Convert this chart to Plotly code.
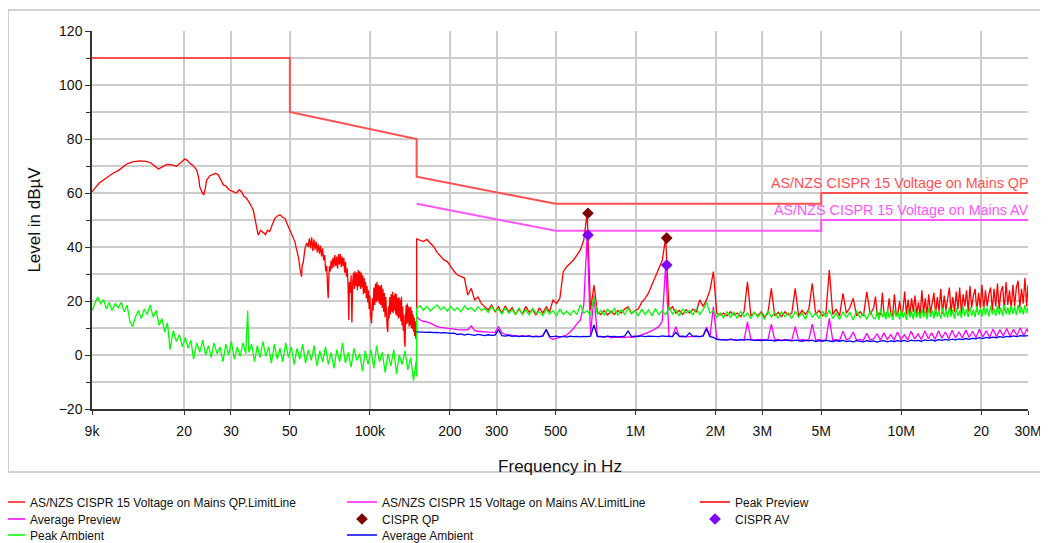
import math
import plotly.graph_objects as go

# ---------------- limit lines (kHz, dBuV) ----------------
qp_limit_khz = [9, 50, 50, 150, 150, 500, 5000, 5000, 30000]
qp_limit_db = [110, 110, 90, 80, 66, 56, 56, 60, 60]
av_limit_khz = [150, 500, 5000, 5000, 30000]
av_limit_db = [56, 46, 46, 50, 50]

# ---------------- Peak Preview, 9 kHz - 150 kHz ----------------
peak_low_khz = [
    9.0, 9.3, 9.6, 10.0, 10.4, 10.8, 11.3, 11.8, 12.2, 12.8,
    13.6, 14.3, 14.9, 15.5, 16.0, 16.5, 17.2, 18.0, 18.7, 19.4,
    20.1, 20.6, 21.0, 21.6, 22.3, 22.7, 22.9, 23.3, 23.7, 24.0,
    24.3, 25.0, 25.7, 26.3, 26.9, 27.5, 28.1, 28.8, 29.5, 30.6,
    31.5, 32.2, 32.9, 33.6, 34.4, 35.4, 36.4, 37.2, 38.0, 38.8,
    39.7, 40.5, 41.2, 42.0, 43.0, 43.9, 44.9, 45.9, 46.9, 47.9,
    49.0, 50.0, 51.0, 52.2, 53.0, 53.8, 54.6, 55.3, 55.7, 56.1,
    57.0, 57.8, 58.6, 59.2, 59.8, 60.4, 61.0, 61.6, 62.2, 62.8,
    63.4, 64.0, 64.6, 65.2, 65.8, 66.4, 67.0, 67.6, 68.2, 68.8,
    69.4, 69.7, 70.1, 70.5, 71.0, 71.5, 72.0, 72.6, 73.2, 73.8,
    74.4, 75.0, 75.6, 76.2, 76.8, 77.4, 78.0, 78.6, 79.2, 79.8,
    80.4, 81.0, 81.6, 82.2, 82.8, 83.3, 83.8, 84.4, 85.0, 85.6,
    86.2, 86.8, 87.4, 88.0, 88.6, 89.2, 89.8, 90.4, 91.0, 91.6,
    92.2, 92.8, 93.4, 94.0, 94.6, 95.2, 95.8, 96.4, 97.0, 97.6,
    98.2, 98.8, 99.4, 100.0, 100.8, 101.5, 102.2, 102.9, 103.6, 104.3,
    105.0, 105.7, 106.4, 107.1, 107.8, 108.5, 109.2, 109.9, 110.6, 111.3,
    112.0, 112.7, 113.4, 114.1, 114.8, 115.5, 116.2, 116.8, 117.5, 118.2,
    118.9, 119.6, 120.3, 121.0, 121.7, 122.4, 123.1, 123.8, 124.5, 125.2,
    125.9, 126.6, 127.3, 128.0, 128.7, 129.4, 130.1, 130.8, 131.5, 132.2,
    132.9, 133.6, 134.3, 135.0, 135.6, 136.3, 137.0, 137.7, 138.4, 139.1,
    139.8, 140.5, 141.2, 141.9, 142.6, 143.3, 144.0, 144.7, 145.4, 146.1,
    146.8, 147.5, 148.2, 148.9, 149.5, 150.0,
]
peak_low_db = [
    60.5, 62.3, 63.8, 65.0, 66.2, 67.3, 68.3, 69.6, 70.8, 71.5,
    71.9, 71.7, 71.3, 70.0, 68.9, 69.6, 70.6, 70.4, 69.9, 71.2,
    72.6, 72.0, 71.0, 70.2, 68.5, 65.5, 62.3, 60.5, 59.3, 61.5,
    64.8, 66.4, 66.9, 67.3, 66.7, 64.8, 63.0, 62.5, 61.2, 60.5,
    60.0, 61.2, 60.5, 58.8, 58.0, 56.0, 53.7, 49.0, 44.4, 46.2,
    45.4, 44.6, 46.2, 45.7, 48.5, 50.6, 51.5, 51.9, 51.0, 50.6,
    48.2, 46.3, 44.0, 42.0, 39.0, 36.4, 32.0, 29.0, 33.5, 34.0,
    39.5, 41.5, 40.0, 43.2, 39.5, 43.6, 38.5, 42.8, 39.0, 42.0,
    38.0, 41.0, 37.5, 40.5, 36.5, 39.5, 35.0, 37.0, 31.0, 33.0,
    24.0, 21.0, 29.0, 33.0, 31.0, 35.0, 32.0, 36.0, 32.5, 37.0,
    33.0, 36.5, 32.0, 37.4, 33.5, 37.5, 32.5, 36.5, 33.0, 36.0,
    30.5, 34.5, 29.0, 32.0, 26.0, 13.0, 27.0, 23.0, 29.5, 12.0,
    27.0, 30.5, 24.5, 31.0, 25.5, 30.5, 24.0, 31.5, 25.5, 31.0,
    24.5, 30.5, 25.0, 29.5, 22.5, 28.5, 23.0, 27.0, 21.0, 25.5,
    19.5, 24.0, 17.0, 22.0, 14.0, 11.7, 21.0, 16.5, 25.0, 18.5,
    26.5, 19.5, 27.1, 20.0, 26.0, 19.0, 25.5, 18.5, 26.0, 17.5,
    24.5, 16.0, 23.0, 14.0, 21.5, 12.0, 10.0, 8.6, 18.0, 13.5,
    21.5, 15.0, 22.5, 16.0, 23.4, 15.5, 22.0, 16.5, 23.0, 15.0,
    22.5, 14.5, 21.0, 13.5, 21.5, 14.0, 20.5, 12.5, 21.6, 11.0,
    18.0, 9.0, 15.0, 5.0, 3.1, 14.0, 18.5, 11.5, 19.1, 12.0,
    18.0, 10.5, 17.5, 11.0, 17.9, 10.0, 16.5, 9.5, 15.0, 8.5,
    14.0, 7.0, 12.5, 6.0, 10.5, 8.0,
]

# ---------------- Peak Ambient, 9 kHz - 150 kHz ----------------
amb_low_khz = [
    9.0, 9.2, 9.45, 9.7, 9.95, 10.2, 10.45, 10.7, 11.0, 11.3,
    11.6, 11.9, 12.2, 12.5, 12.8, 13.1, 13.45, 13.8, 14.15, 14.5,
    14.9, 15.3, 15.7, 16.1, 16.5, 16.9, 17.3, 17.7, 18.2, 18.7,
    19.2, 19.7, 20.2, 20.7, 21.2, 21.7, 22.3, 22.9, 23.5, 24.1,
    24.7, 25.3, 25.9, 26.6, 27.3, 28.0, 28.7, 29.4, 30.1, 30.9,
    31.7, 32.5, 33.3, 34.1, 34.7, 35.0, 35.9, 36.8, 37.7, 38.6,
    39.6, 40.6, 41.6, 42.6, 43.7, 44.8, 45.9, 47.0, 48.2, 49.4,
    50.6, 51.9, 53.2, 54.5, 55.9, 57.3, 58.7, 60.2, 61.7, 63.2,
    64.8, 66.4, 68.1, 69.8, 71.5, 73.3, 75.1, 77.0, 78.9, 80.9,
    82.9, 85.0, 87.1, 89.3, 91.5, 93.8, 96.1, 98.5, 101.0, 103.5,
    106.0, 108.7, 111.4, 114.2, 117.0, 120.0, 123.0, 126.0, 129.0, 132.3,
    135.6, 139.0, 142.5, 146.0, 149.5, 150.0,
]
amb_low_db = [
    16.5, 18.5, 21.5, 19.0, 20.5, 17.0, 19.5, 16.5, 19.0, 17.5,
    19.5, 16.0, 18.5, 12.5, 10.5, 14.0, 16.5, 13.5, 17.0, 15.0,
    18.5, 14.0, 16.5, 11.0, 13.5, 8.5, 12.0, 2.0, 9.0, 5.0,
    7.5, 3.0, 6.5, 2.5, 5.5, -1.5, 4.5, 1.0, 5.5, 0.0,
    3.5, -1.0, 4.5, 0.5, 3.0, -2.5, 4.0, 0.0, 5.0, -1.5,
    3.0, -0.5, 4.5, 0.5, 16.5, 1.0, 4.0, -2.5, 3.5, -1.0,
    5.0, -0.5, 3.0, -3.0, 4.0, -1.5, 2.5, -2.5, 4.5, -1.0,
    3.0, -3.5, 2.5, -1.5, 4.0, -3.0, 2.0, -2.0, 3.5, -4.0,
    1.5, -2.5, 3.0, -3.5, 1.0, -5.0, 2.0, -2.5, 4.5, -3.0,
    1.0, -4.5, 2.5, -2.0, 0.5, -6.0, 1.5, -3.5, 2.0, -5.0,
    3.5, -2.5, 1.0, -6.5, 0.5, -4.0, 2.0, -7.0, 0.0, -3.5,
    1.5, -5.5, -1.0, -9.5, -2.0, -8.0,
]

# ---------------- sweep 150 kHz - 30 MHz ----------------
sweep_khz = [
    150, 154.5, 159.1, 163.9, 168.8, 173.9, 179.1, 184.5, 190.0, 195.7,
    201.6, 207.6, 213.8, 220.3, 226.9, 233.7, 240.7, 247.9, 255.3, 263.0,
    270.9, 279.0, 287.4, 296.0, 304.9, 314.0, 323.5, 333.2, 343.1, 353.4,
    364.0, 375.0, 386.2, 397.8, 409.7, 422.0, 434.7, 447.7, 461.2, 475.0,
    489.2, 503.9, 519.0, 534.6, 550.6, 567.2, 584.2, 601.7, 619.8, 638.4,
    657.5, 677.2, 697.5, 718.5, 740.0, 762.2, 785.1, 808.7, 832.9, 857.9,
    883.6, 910.1, 937.4, 965.6, 994.5, 1024, 1055, 1087, 1119, 1153,
    1188, 1223, 1260, 1298, 1337, 1377, 1418, 1461, 1504, 1549,
    1596, 1644, 1693, 1744, 1796, 1850, 1906, 1963, 2022, 2082,
    2145, 2209, 2275, 2344, 2414, 2486, 2561, 2638, 2717, 2798,
    2882, 2969, 3058, 3150, 3244, 3341, 3442, 3545, 3651, 3761,
    3874, 3990, 4109, 4233, 4360, 4490, 4625, 4764, 4907, 5054,
    5206, 5362, 5523, 5688, 5859, 6035, 6216, 6402, 6594, 6792,
    6996, 7206, 7422, 7645, 7874, 8110, 8354, 8604, 8862, 9128,
    9402, 9684, 9975, 10274, 10582, 10900, 11227, 11564, 11911, 12268,
    12636, 13015, 13405, 13808, 14222, 14649, 15088, 15541, 16007, 16487,
    16982, 17491, 18016, 18557, 19113, 19687, 20277, 20886, 21512, 22158,
    22822, 23507, 24212, 24939, 25687, 26457, 27251, 28069, 28911, 29778,
    30000,
]
# peak traces on the sweep up to 7.9 MHz
peak_preview_db = [
    43.0, 42.5, 42.0, 42.8, 41.5, 40.1, 38.0, 36.5, 35.2, 34.6,
    32.7, 31.0, 29.6, 29.0, 28.5, 22.2, 24.7, 20.4, 21.5, 19.0,
    17.9, 16.7, 18.5, 16.0, 17.9, 15.5, 18.2, 16.0, 17.5, 15.0,
    17.0, 15.2, 18.0, 15.8, 16.8, 14.8, 17.5, 15.5, 17.9, 16.0,
    20.4, 19.1, 21.0, 30.9, 32.7, 34.0, 35.2, 37.0, 38.9, 42.6,
    52.5, 16.7, 25.9, 16.0, 15.0, 16.5, 14.8, 16.2, 15.0, 16.5,
    15.5, 17.0, 17.9, 15.5, 16.5, 17.0, 19.5, 21.0, 23.0, 26.0,
    29.0, 31.8, 35.0, 43.3, 16.7, 17.9, 15.5, 16.5, 15.0, 16.8,
    15.5, 17.0, 16.0, 20.4, 18.0, 20.4, 24.0, 30.9, 15.4, 14.8,
    15.5, 14.5, 16.0, 14.8, 15.5, 14.2, 16.0, 27.1, 14.5, 15.8,
    14.5, 16.0, 14.0, 15.5, 24.7, 14.5, 15.8, 14.2, 16.0, 14.8,
    15.5, 24.7, 14.5, 16.5, 15.0, 17.0, 26.5, 15.0, 16.5, 14.5,
    15.5, 31.5, 15.0, 17.0, 14.5, 22.8, 15.5, 17.5, 21.0, 14.5,
    16.0, 14.5, 23.4, 15.0, 17.5,
]
peak_ambient_db = [
    17.3, 18.3, 16.5, 18.0, 16.3, 17.5, 18.5, 16.8, 17.8, 16.2,
    18.0, 16.5, 17.5, 16.0, 18.2, 16.8, 17.6, 16.2, 17.9, 16.5,
    17.2, 15.8, 17.9, 16.3, 17.0, 15.2, 17.6, 15.5, 16.8, 15.0,
    17.5, 15.0, 16.8, 14.8, 17.2, 15.5, 16.0, 14.5, 17.0, 15.2,
    16.5, 14.5, 17.0, 15.0, 16.2, 14.8, 16.5, 15.0, 18.5, 15.5,
    16.5, 14.5, 21.6, 15.0, 16.5, 14.8, 17.0, 15.5, 17.2, 14.8,
    16.8, 15.0, 17.5, 15.2, 16.5, 14.5, 17.0, 15.0, 16.8, 14.5,
    17.2, 15.0, 16.5, 14.8, 17.8, 15.2, 16.8, 14.5, 17.0, 15.5,
    16.5, 14.8, 17.2, 15.0, 16.8, 19.5, 15.5, 16.5, 14.0, 15.5,
    13.8, 16.0, 14.0, 15.8, 13.5, 16.2, 14.2, 15.5, 13.5, 16.0,
    14.0, 15.5, 13.2, 16.5, 14.0, 15.8, 13.5, 16.0, 14.2, 15.5,
    13.5, 16.2, 14.0, 15.6, 13.2, 16.5, 14.0, 15.5, 13.5, 16.2,
    14.0, 16.8, 13.5, 15.5, 13.2, 16.0, 14.0, 15.8, 13.0, 16.5,
    13.8, 15.5, 13.2, 16.2, 13.5,
]
# average traces on the full sweep
avg_preview_db = [
    14.2, 13.0, 12.5, 12.3, 11.8, 11.0, 10.5, 10.2, 10.0, 9.9,
    9.8, 9.5, 9.4, 9.3, 9.3, 9.3, 10.8, 9.0, 8.8, 8.6,
    8.6, 8.5, 8.4, 8.4, 10.5, 8.2, 7.6, 7.4, 7.3, 7.2,
    7.0, 7.2, 6.9, 7.1, 6.8, 7.0, 6.8, 7.2, 9.3, 6.5,
    5.8, 6.2, 6.6, 7.0, 7.4, 8.5, 9.8, 11.5, 13.0, 18.5,
    44.4, 7.5, 22.0, 7.0, 6.8, 6.5, 6.9, 6.4, 6.6, 6.5,
    6.6, 6.4, 6.7, 6.5, 6.6, 7.0, 7.5, 8.0, 8.4, 9.0,
    9.8, 10.5, 12.5, 33.3, 6.8, 6.8, 10.5, 6.9, 6.7, 6.8,
    6.8, 7.0, 6.9, 6.8, 7.0, 10.3, 6.8, 17.9, 6.0, 5.8,
    5.8, 5.6, 5.9, 5.7, 5.5, 5.8, 5.6, 12.3, 5.7, 5.5,
    5.6, 5.8, 5.5, 5.7, 11.4, 5.5, 5.8, 5.4, 5.7, 5.6,
    5.5, 10.6, 5.4, 5.8, 5.5, 5.7, 11.4, 5.5, 5.8, 5.4,
    5.6, 13.6, 5.5, 5.8, 5.4, 8.8, 5.7, 6.2, 8.5, 5.5,
    5.8, 5.5, 8.0, 5.6, 6.0, 7.8, 5.5, 8.2, 5.7, 7.5,
    5.6, 8.5, 5.8, 7.5, 5.6, 8.8, 5.9, 7.8, 5.7, 9.0,
    6.0, 8.2, 5.8, 9.0, 6.2, 8.5, 6.0, 9.2, 6.3, 8.6,
    6.2, 9.3, 6.5, 8.8, 6.4, 9.5, 6.7, 9.0, 6.6, 9.6,
    6.8, 9.4, 7.0, 9.8, 6.9, 9.5, 7.2, 10.0, 7.1, 9.8,
    8.5,
]
avg_ambient_db = [
    8.6, 8.5, 8.6, 8.4, 8.5, 8.3, 8.4, 8.2, 8.3, 8.1,
    8.0, 8.1, 7.6, 7.8, 7.4, 7.7, 7.5, 7.3, 7.6, 7.4,
    7.2, 7.5, 7.3, 7.4, 9.3, 7.2, 7.0, 7.3, 6.9, 7.1,
    6.8, 7.0, 6.9, 7.1, 6.7, 6.9, 6.8, 7.0, 9.5, 6.9,
    6.8, 7.0, 6.7, 6.9, 6.6, 7.0, 6.8, 6.9, 6.7, 6.9,
    6.8, 7.0, 11.1, 6.8, 6.9, 6.7, 7.0, 6.8, 6.9, 6.7,
    6.9, 7.0, 8.9, 6.8, 7.0, 6.9, 7.1, 6.8, 7.0, 6.9,
    7.0, 6.8, 7.1, 6.9, 7.0, 6.8, 8.4, 6.9, 7.0, 6.8,
    8.2, 6.9, 7.0, 6.8, 7.1, 9.7, 6.8, 6.5, 5.8, 5.6,
    5.7, 5.5, 5.8, 5.6, 5.4, 5.7, 5.5, 5.8, 5.6, 5.4,
    5.5, 5.3, 5.6, 5.4, 5.5, 5.2, 5.5, 5.3, 5.6, 5.4,
    5.2, 5.5, 5.3, 5.1, 5.4, 5.2, 5.5, 5.0, 5.3, 5.1,
    5.4, 5.2, 5.0, 5.3, 5.1, 5.4, 5.0, 5.2, 4.9, 5.3,
    5.1, 4.9, 5.3, 5.0, 5.2, 4.8, 5.1, 5.3, 4.9, 5.2,
    5.0, 5.3, 5.1, 5.4, 5.0, 5.5, 5.2, 5.4, 5.1, 5.6,
    5.3, 5.6, 5.2, 5.7, 5.4, 5.8, 5.5, 5.9, 5.6, 6.0,
    5.7, 6.1, 5.8, 6.2, 6.0, 6.4, 6.1, 6.5, 6.3, 6.6,
    6.4, 6.8, 6.5, 6.9, 6.7, 7.1, 6.8, 7.2, 7.0, 7.3,
    7.2,
]

# ---------------- fine sweep 8 MHz - 30 MHz for the peak traces ----------------
fine_khz = [
    8000, 8120, 8242, 8365, 8491, 8618, 8747, 8879, 9012, 9147,
    9284, 9423, 9565, 9708, 9854, 10002, 10152, 10304, 10459, 10616,
    10775, 10936, 11100, 11267, 11436, 11608, 11782, 11959, 12138, 12320,
    12505, 12692, 12883, 13076, 13272, 13471, 13673, 13878, 14086, 14298,
    14512, 14730, 14951, 15175, 15403, 15634, 15868, 16106, 16348, 16593,
    16842, 17095, 17351, 17611, 17876, 18144, 18416, 18692, 18972, 19257,
    19546, 19839, 20137, 20439, 20745, 21056, 21372, 21693, 22018, 22348,
    22684, 23024, 23369, 23720, 24075, 24437, 24803, 25175, 25553, 25936,
    26325, 26720, 27121, 27528, 27941, 28360, 28785, 29217, 29655, 30000,
]
peak_preview_fine_db = [
    21.6, 14.5, 15.5, 14.8, 23.0, 15.0, 14.5, 16.0, 21.0, 15.0,
    14.5, 22.5, 15.5, 14.8, 20.0, 15.2, 16.5, 23.5, 15.0, 20.5,
    14.5, 21.0, 16.0, 22.0, 15.0, 19.5, 14.5, 24.0, 15.5, 21.0,
    14.8, 22.5, 15.5, 20.0, 23.0, 15.0, 21.5, 16.0, 24.5, 15.2,
    22.0, 16.5, 20.5, 25.0, 15.5, 21.5, 16.0, 23.5, 17.0, 25.0,
    15.5, 22.5, 18.0, 24.0, 16.0, 25.5, 17.5, 22.0, 24.5, 16.0,
    23.0, 17.5, 26.0, 16.5, 24.0, 18.0, 22.5, 25.0, 16.5, 24.5,
    18.0, 26.5, 17.0, 23.5, 25.5, 16.5, 27.0, 18.5, 24.0, 17.0,
    26.0, 18.0, 25.0, 27.5, 17.5, 24.5, 19.0, 28.5, 18.0, 26.0,
]
peak_ambient_fine_db = [
    13.5, 16.5, 13.0, 17.0, 14.0, 16.0, 13.2, 16.8, 13.8, 15.8,
    13.0, 16.5, 14.2, 16.0, 13.2, 17.0, 13.8, 15.8, 13.0, 16.8,
    14.0, 16.2, 13.2, 17.2, 13.8, 16.0, 13.5, 17.0, 14.0, 16.2,
    13.2, 17.5, 14.0, 16.5, 13.5, 17.2, 14.2, 16.0, 13.5, 17.5,
    14.0, 16.5, 13.8, 17.8, 14.2, 16.8, 13.5, 17.5, 14.5, 16.5,
    13.8, 18.0, 14.5, 17.0, 14.0, 17.8, 14.6, 16.8, 14.0, 18.2,
    14.8, 17.2, 14.2, 18.0, 14.8, 17.5, 14.2, 18.3, 15.0, 17.2,
    14.5, 18.2, 15.0, 17.5, 14.5, 18.5, 15.2, 17.6, 14.8, 18.4,
    15.2, 17.8, 14.8, 18.6, 15.4, 17.8, 15.0, 18.5, 15.5, 17.5,
]

# ---------------- final measurements ----------------
qp_khz = [662, 1310]
qp_db = [52.5, 43.3]
av_khz = [662, 1310]
av_db = [44.4, 33.3]

# ---------------- axis ticks ----------------
x_tick_hz = [9e3, 2e4, 3e4, 5e4, 1e5, 2e5, 3e5, 5e5, 1e6, 2e6, 3e6, 5e6, 1e7, 2e7, 3e7]
x_tick_text = ["9k", "20", "30", "50", "100k", "200", "300", "500", "1M", "2M", "3M", "5M", "10M", "20", "30M"]

assert len(peak_low_khz) == len(peak_low_db), (len(peak_low_khz), len(peak_low_db))
assert len(amb_low_khz) == len(amb_low_db), (len(amb_low_khz), len(amb_low_db))
assert len(peak_preview_db) == len(peak_ambient_db), (len(peak_preview_db), len(peak_ambient_db))
for arr in (avg_preview_db, avg_ambient_db):
    assert len(arr) == len(sweep_khz), (len(arr), len(sweep_khz))
for arr in (peak_preview_fine_db, peak_ambient_fine_db):
    assert len(arr) == len(fine_khz), (len(arr), len(fine_khz))


def hz(lst):
    return [v * 1000.0 for v in lst]


peak_sweep_khz = sweep_khz[:len(peak_preview_db)]

QP_COLOR = "#ff5050"
AV_COLOR = "#ff55ff"

fig = go.Figure()
fig.add_trace(go.Scatter(x=hz(qp_limit_khz), y=qp_limit_db, mode="lines",
                         line=dict(color=QP_COLOR, width=2), legend="legend",
                         name="AS/NZS CISPR 15 Voltage on Mains QP.LimitLine"))
fig.add_trace(go.Scatter(x=hz(av_limit_khz), y=av_limit_db, mode="lines",
                         line=dict(color=AV_COLOR, width=2), legend="legend2",
                         name="AS/NZS CISPR 15 Voltage on Mains AV.LimitLine"))
fig.add_trace(go.Scatter(x=hz(peak_low_khz + peak_sweep_khz + fine_khz),
                         y=peak_low_db + peak_preview_db + peak_preview_fine_db, mode="lines",
                         line=dict(color="#ff0000", width=1.3), legend="legend3",
                         name="Peak Preview"))
fig.add_trace(go.Scatter(x=hz(sweep_khz), y=avg_preview_db, mode="lines",
                         line=dict(color="#ff00ff", width=1.3), legend="legend4",
                         name="Average Preview"))
fig.add_trace(go.Scatter(x=hz(amb_low_khz + peak_sweep_khz + fine_khz),
                         y=amb_low_db + peak_ambient_db + peak_ambient_fine_db, mode="lines",
                         line=dict(color="#00ff00", width=1.3), legend="legend7",
                         name="Peak Ambient"))
fig.add_trace(go.Scatter(x=hz(sweep_khz), y=avg_ambient_db, mode="lines",
                         line=dict(color="#0000ff", width=1.3), legend="legend8",
                         name="Average Ambient"))
fig.add_trace(go.Scatter(x=hz(qp_khz), y=qp_db, mode="markers",
                         marker=dict(symbol="diamond", size=9, color="#800000"), legend="legend5",
                         name="CISPR QP"))
fig.add_trace(go.Scatter(x=hz(av_khz), y=av_db, mode="markers",
                         marker=dict(symbol="diamond", size=9, color="#8000ff"), legend="legend6",
                         name="CISPR AV"))

GRID = "#cccccc"
AXIS = "#333333"
FONT = "Arial, Liberation Sans, sans-serif"

fig.update_xaxes(type="log", range=[math.log10(9e3), math.log10(3e7)],
                 tickmode="array", tickvals=x_tick_hz, ticktext=x_tick_text,
                 showgrid=True, gridcolor=GRID, gridwidth=1.5,
                 showline=True, linecolor=AXIS, linewidth=1.5,
                 ticks="outside", ticklen=4, tickcolor=AXIS, ticklabelstandoff=4,
                 tickfont=dict(size=14, color="#111"), zeroline=False, automargin=False,
                 title=dict(text="Frequency in Hz", font=dict(size=17, color="#111"), standoff=23))
fig.update_yaxes(range=[-20, 120], tick0=0, dtick=20,
                 showgrid=True, gridcolor=GRID, gridwidth=1.5,
                 showline=True, linecolor=AXIS, linewidth=1.5,
                 ticks="outside", ticklen=5, tickcolor=AXIS,
                 minor=dict(dtick=10, ticks="outside", ticklen=4, tickcolor=AXIS,
                            showgrid=True, gridcolor=GRID, gridwidth=1.5),
                 tickfont=dict(size=14, color="#111"), zeroline=False, automargin=False,
                 title=dict(text="Level in dBµV", font=dict(size=17, color="#111"), standoff=14))

fig.add_annotation(x=math.log10(3e7), y=60, xref="x", yref="y", text="AS/NZS CISPR 15 Voltage on Mains QP",
                   showarrow=False, xanchor="right", yanchor="bottom", xshift=2,
                   font=dict(size=14.3, color=QP_COLOR, family=FONT))
fig.add_annotation(x=math.log10(3e7), y=50, xref="x", yref="y", text="AS/NZS CISPR 15 Voltage on Mains AV",
                   showarrow=False, xanchor="right", yanchor="bottom", xshift=2,
                   font=dict(size=14.3, color=AV_COLOR, family=FONT))

fig.add_shape(type="rect", xref="paper", yref="paper", x0=-0.0897, x1=1.04, y0=-0.1667, y1=1.0556,
              line=dict(color="#c4c4c4", width=1.5), fillcolor="rgba(0,0,0,0)", layer="below")

# the page draws the figure 8 px in from its corner (body margin), so it is sized 1040 x 535
FIG_W, FIG_H = 1040, 535
PLOT_L, PLOT_W = 84, 936
col_left = [-18, 334, 687]
row_mid = [494, 511, 527]


def legend_at(col, row):
    return dict(orientation="v", xref="paper", yref="container",
                x=(col_left[col] - PLOT_L) / PLOT_W, y=(FIG_H - row_mid[row]) / FIG_H,
                xanchor="left", yanchor="middle", font=dict(size=12, family=FONT, color="#111"),
                itemwidth=30, bgcolor="rgba(0,0,0,0)", borderwidth=0)


fig.update_layout(
    width=FIG_W, height=FIG_H,
    margin=dict(l=PLOT_L, r=FIG_W - PLOT_L - PLOT_W, t=23, b=134, autoexpand=False),
    paper_bgcolor="white", plot_bgcolor="white",
    font=dict(family=FONT, color="#111"),
    showlegend=True,
    legend=legend_at(0, 0),
    legend2=legend_at(1, 0),
    legend3=legend_at(2, 0),
    legend4=legend_at(0, 1),
    legend5=legend_at(1, 1),
    legend6=legend_at(2, 1),
    legend7=legend_at(0, 2),
    legend8=legend_at(1, 2),
)

fig.write_html("out.html")
